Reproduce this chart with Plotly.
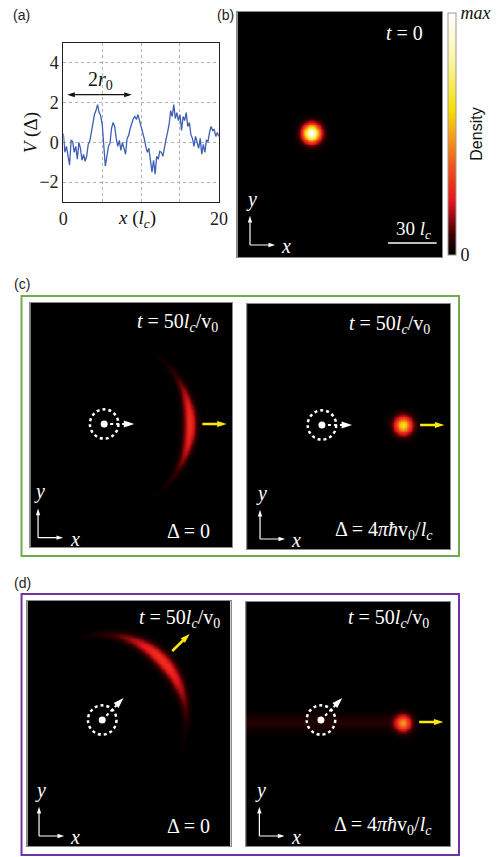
import numpy as np
import plotly.graph_objects as go

FIG_W, FIG_H = 503, 857
S = 5.0 / 3.0  # pixels per l_c in the density images

# ---------------- Panel (a): random potential ----------------
A_X = [round(0.2 * i, 1) for i in range(101)]
A_V = [0.45, -0.5, -0.2, -0.7, -1.15, 0.1, 0.05, -0.5, -0.2, -0.85,
       0.0, -0.3, -0.9, -0.6, -0.95, -0.7, -0.1, 0.05, 0.5, 1.1,
       1.4, 1.6, 1.9, 1.5, 1.35, 0.9, -0.2, -1.2, -0.7, -0.2,
       -0.05, 0.7, 1.0, 0.8, 0.2, -0.2, 0.1, -0.4, 0.0, -0.3,
       -0.6, 0.2, 0.35, 0.7, 0.95, 1.2, 1.3, 1.15, 1.4, 1.1,
       0.8, 0.55, 0.2, -0.2, -0.5, -0.3, -0.9, -1.5, -0.9, -1.6,
       -0.7, -0.85, -0.45, -0.5, -0.7, -0.2, 0.15, 0.5, 0.9, 1.6,
       1.3, 1.9, 1.2, 1.5, 1.1, 1.4, 0.6, 1.3, 1.1, 1.5,
       0.8, 1.0, 0.4, 0.2, -0.2, 0.3, -0.05, -0.3, 0.2, -0.6,
       -0.1, -0.5, 0.1, 0.05, 0.5, 0.8, 0.6, 0.65, 0.3, 0.5, 0.3]
A_XTICKS = [0, 5, 10, 15, 20]
A_XTICKTEXT = ["0", "", "", "", "20"]
A_YTICKS = [-2, 0, 2, 4]
A_YTICKTEXT = ["\u22122", "0", "2", "4"]
A_ARROW_X = [0.5, 8.8]
A_ARROW_Y = 2.4

# ---------------- Density images ----------------
IMG_LEFT = [239, 26, 249, 23, 248]
IMG_TOP = [12, 303, 304, 601, 602]
IMG_RIGHT = [450, 234, 458, 232, 458]
IMG_BOTTOM = [257, 547, 549, 846, 846]

# source point (white dot) in l_c
SRC_IMG = [1, 2, 3, 4]
SRC_X = [45.6, 46.2, 46.2, 46.2]
SRC_Y = [73.8, 74.4, 75.6, 75.6]
SRC_DIR = [0, 0, 45, 45]       # degrees
SRC_RING = 8.8
SRC_ARROW_LEN = 18.6

# Gaussian wave packets
BLOB_IMG = [0, 2, 4]
BLOB_X = [45.6, 96.2, 96.8]
BLOB_Y = [74.4, 74.4, 73.9]
BLOB_SIGMA = [3.7, 3.7, 3.4]
BLOB_PEAK = [1.0, 0.62, 0.46]

# crescent (ring) packets
ARC_IMG = [1, 3]
ARC_CX = [45.6, 46.2]
ARC_CY = [73.8, 75.6]
ARC_R = [52.8, 51.5]
ARC_ANGLE = [0.0, 44.0]
ARC_SPREAD = [20.0, 24.0]
ARC_WIDTH = [2.6, 3.0]
ARC_PEAK = [0.29, 0.29]

# faint trail
TRAIL_IMG = [4]
TRAIL_END = [96.8]
TRAIL_Y = [74.4]
TRAIL_WIDTH = [3.6]
TRAIL_PEAK = [0.045]

# yellow propagation arrows (l_c)
YEL_IMG = [1, 2, 3, 4]
YEL_X0 = [106.2, 106.8, 89.4, 106.8]
YEL_Y0 = [73.8, 74.4, 117.0, 74.4]
YEL_X1 = [121.2, 121.8, 100.2, 121.8]
YEL_Y1 = [73.8, 74.4, 127.2, 74.4]

# x-y axis indicator origins (l_c)
IND_X = [7.8, 4.8, 8.0, 7.2, 8.2]
IND_Y = [7.2, 5.6, 6.0, 6.0, 6.0]

# texts
TOP_TEXT = ["<i>t</i> = 0", "<i>t</i> = 50<i>l<sub>c</sub></i>/v<sub>0</sub>",
            "<i>t</i> = 50<i>l<sub>c</sub></i>/v<sub>0</sub>",
            "<i>t</i> = 50<i>l<sub>c</sub></i>/v<sub>0</sub>",
            "<i>t</i> = 50<i>l<sub>c</sub></i>/v<sub>0</sub>"]
TOP_X = [116.0, 117.0, 114.0, 120.0, 114.0]
TOP_Y = [134.4, 134.4, 135.0, 136.8, 136.8]
BOT_IMG = [1, 2, 3, 4]
BOT_TEXT = ["\u0394 = 0", "\u0394 = 4<i>\u03c0\u0127</i>v<sub>0</sub>/<i>l<sub>c</sub></i>",
            "\u0394 = 0", "\u0394 = 4<i>\u03c0\u0127</i>v<sub>0</sub>/<i>l<sub>c</sub></i>"]
BOT_X = [112.0, 115.8, 114.0, 115.8]
BOT_Y = [9.6, 11.4, 12.2, 12.2]

HOT = [[0.0, "#000000"], [0.08, "#3a0000"], [0.22, "#e3141c"], [0.36, "#f0501a"],
       [0.5, "#f7a21a"], [0.6, "#f5e100"], [0.8, "#faf5a0"], [1.0, "#ffffff"]]

SERIF = "Liberation Serif"
SANS = "Liberation Sans"

fig = go.Figure()


def px2paper_x(p):
    return p / FIG_W


def px2paper_y(p):
    return 1 - p / FIG_H


def add_arrow(x0, y0, x1, y1, xr, yr, color, width, head, dash="solid", symbol="arrow"):
    fig.add_trace(go.Scatter(
        x=[x0, x1], y=[y0, y1], mode="lines+markers", xaxis=xr, yaxis=yr,
        line=dict(color=color, width=width, dash=dash),
        marker=dict(symbol=["circle", symbol], size=[0, head], color=color, opacity=1,
                    angleref="previous", line=dict(width=0)),
        hoverinfo="skip", showlegend=False))


# ---- panel (a) ----
fig.add_trace(go.Scatter(x=A_X, y=A_V, mode="lines",
                         line=dict(color="#3d5fb4", width=1.3),
                         xaxis="x", yaxis="y", showlegend=False, hoverinfo="skip"))
mid = (A_ARROW_X[0] + A_ARROW_X[1]) / 2
add_arrow(mid, A_ARROW_Y, A_ARROW_X[1], A_ARROW_Y, "x", "y", "#111", 1.2, 8)
add_arrow(mid, A_ARROW_Y, A_ARROW_X[0], A_ARROW_Y, "x", "y", "#111", 1.2, 8)

layout = dict(
    width=FIG_W, height=FIG_H, margin=dict(l=0, r=0, t=0, b=0), autosize=False,
    paper_bgcolor="white", plot_bgcolor="white", showlegend=False,
    xaxis=dict(domain=[px2paper_x(60), px2paper_x(220)], range=[0, 20],
               tickvals=A_XTICKS, ticktext=A_XTICKTEXT, showgrid=True,
               gridcolor="#b0b0b0", griddash="dot", gridwidth=1,
               showline=True, mirror=True, linecolor="#222", linewidth=1.2,
               zeroline=False, ticks="", tickfont=dict(family=SERIF, size=18, color="#222"),
               anchor="y"),
    yaxis=dict(domain=[px2paper_y(202), px2paper_y(43)], range=[-3, 5],
               tickvals=A_YTICKS, ticktext=A_YTICKTEXT, showgrid=True,
               gridcolor="#b0b0b0", griddash="dot", gridwidth=1,
               showline=True, mirror=True, linecolor="#222", linewidth=1.2,
               zeroline=False, ticks="", tickfont=dict(family=SERIF, size=18, color="#222"),
               anchor="x"),
)

annotations = []
shapes = []

annotations.append(dict(xref="x", yref="y", x=4.8, y=3.1, text="2<i>r</i><sub>0</sub>",
                        showarrow=False, font=dict(family=SERIF, size=20, color="#111")))
annotations.append(dict(xref="paper", yref="paper", x=px2paper_x(136), y=px2paper_y(219),
                        xanchor="center", yanchor="middle",
                        text="<i>x</i> (<i>l<sub>c</sub></i>)", showarrow=False,
                        font=dict(family=SERIF, size=19, color="#111")))
annotations.append(dict(xref="paper", yref="paper", x=px2paper_x(27), y=px2paper_y(133),
                        xanchor="center", yanchor="middle",
                        text="<i>V</i> (\u0394)", textangle=-90, showarrow=False,
                        font=dict(family=SERIF, size=19, color="#111")))

# ---- density images ----
for i in range(5):
    n = i + 2
    xr, yr = "x%d" % n, "y%d" % n
    W = (IMG_RIGHT[i] - IMG_LEFT[i]) / S
    H = (IMG_BOTTOM[i] - IMG_TOP[i]) / S
    gx = np.arange(0, W + 0.01, 1.0)
    gy = np.arange(0, H + 0.01, 1.0)
    X, Y = np.meshgrid(gx, gy)
    Z = np.zeros_like(X)
    for k, im in enumerate(BLOB_IMG):
        if im == i:
            Z += BLOB_PEAK[k] * np.exp(-((X - BLOB_X[k]) ** 2 + (Y - BLOB_Y[k]) ** 2)
                                       / (2 * BLOB_SIGMA[k] ** 2))
    for k, im in enumerate(ARC_IMG):
        if im == i:
            r = np.hypot(X - ARC_CX[k], Y - ARC_CY[k])
            th = np.degrees(np.arctan2(Y - ARC_CY[k], X - ARC_CX[k])) - ARC_ANGLE[k]
            th = (th + 180) % 360 - 180
            ang = np.exp(-0.5 * (th / ARC_SPREAD[k]) ** 2)
            wid = ARC_WIDTH[k] * (0.45 + 0.55 * ang)
            Z += ARC_PEAK[k] * ang * np.exp(-0.5 * ((r - ARC_R[k]) / wid) ** 2)
    for k, im in enumerate(TRAIL_IMG):
        if im == i:
            Z += TRAIL_PEAK[k] * np.exp(-0.5 * ((Y - TRAIL_Y[k]) / TRAIL_WIDTH[k]) ** 2) \
                / (1 + np.exp((X - TRAIL_END[k]) / 2.0))
    Z = np.round(np.clip(Z, 0, 1), 3)
    tr = dict(x=gx, y=gy, z=Z, colorscale=HOT, zmin=0, zmax=1, zsmooth="best",
              xaxis=xr, yaxis=yr, hoverinfo="skip", showscale=(i == 0))
    if i == 0:
        tr["colorbar"] = dict(
            x=px2paper_x(456), xanchor="left", xpad=0, ypad=0,
            y=px2paper_y((13 + 255) / 2), yanchor="middle", len=(255 - 13) / FIG_H,
            lenmode="fraction", thickness=8, thicknessmode="pixels",
            outlinewidth=1, outlinecolor="#999", tickvals=[0, 1],
            ticktext=["0", "<i>max</i>"], ticks="",
            tickfont=dict(family=SERIF, size=18, color="#111"),
            title=dict(text="Density", side="right", font=dict(family=SANS, size=16, color="#111")))
    fig.add_trace(go.Heatmap(**tr))

    layout["xaxis%d" % n] = dict(domain=[px2paper_x(IMG_LEFT[i]), px2paper_x(IMG_RIGHT[i])],
                                 range=[0, W], showgrid=False, zeroline=False,
                                 showticklabels=False, ticks="", showline=True, mirror=True,
                                 linecolor="#8a8a8a", linewidth=1, anchor=yr, fixedrange=True)
    layout["yaxis%d" % n] = dict(domain=[px2paper_y(IMG_BOTTOM[i]), px2paper_y(IMG_TOP[i])],
                                 range=[0, H], showgrid=False, zeroline=False,
                                 showticklabels=False, ticks="", showline=True, mirror=True,
                                 linecolor="#8a8a8a", linewidth=1, anchor=xr, fixedrange=True)

    # x-y indicator
    ox, oy = IND_X[i], IND_Y[i]
    add_arrow(ox, oy, ox, oy + 17.5, xr, yr, "white", 1.2, 7)
    add_arrow(ox, oy, ox + 15.5, oy, xr, yr, "white", 1.2, 7)
    annotations.append(dict(xref=xr, yref=yr, x=ox + 0.8, y=oy + 27.5, text="<i>y</i>",
                            showarrow=False, font=dict(family=SERIF, size=20, color="white")))
    annotations.append(dict(xref=xr, yref=yr, x=ox + 22.5, y=oy - 0.5, text="<i>x</i>",
                            showarrow=False, font=dict(family=SERIF, size=20, color="white")))
    # top text
    annotations.append(dict(xref=xr, yref=yr, x=TOP_X[i], y=TOP_Y[i], text=TOP_TEXT[i],
                            xanchor="right", showarrow=False,
                            font=dict(family=SERIF, size=20, color="white")))

# scale bar in (b)
shapes.append(dict(type="line", xref="x2", yref="y2", x0=93, x1=123, y0=8.4, y1=8.4,
                   line=dict(color="white", width=1.5)))
annotations.append(dict(xref="x2", yref="y2", x=108.5, y=16.5, text="30 <i>l<sub>c</sub></i>",
                        showarrow=False, font=dict(family=SERIF, size=19, color="white")))

# bottom texts
for k, im in enumerate(BOT_IMG):
    n = im + 2
    annotations.append(dict(xref="x%d" % n, yref="y%d" % n, x=BOT_X[k], y=BOT_Y[k],
                            text=BOT_TEXT[k], xanchor="right", showarrow=False,
                            font=dict(family=SERIF, size=20, color="white")))

# sources: dotted ring, dot, dotted direction arrow
for k, im in enumerate(SRC_IMG):
    n = im + 2
    xr, yr = "x%d" % n, "y%d" % n
    cx, cy = SRC_X[k], SRC_Y[k]
    shapes.append(dict(type="circle", xref=xr, yref=yr, x0=cx - SRC_RING, x1=cx + SRC_RING,
                       y0=cy - SRC_RING, y1=cy + SRC_RING,
                       line=dict(color="white", width=2.5, dash="dot")))
    a = np.radians(SRC_DIR[k])
    tipx, tipy = cx + SRC_ARROW_LEN * np.cos(a), cy + SRC_ARROW_LEN * np.sin(a)
    add_arrow(cx, cy, tipx, tipy, xr, yr, "white", 2, 11, dash="dot")
    fig.add_trace(go.Scatter(x=[cx], y=[cy], mode="markers", xaxis=xr, yaxis=yr,
                             marker=dict(color="white", size=7), hoverinfo="skip",
                             showlegend=False))

# yellow arrows
for k, im in enumerate(YEL_IMG):
    n = im + 2
    add_arrow(YEL_X0[k], YEL_Y0[k], YEL_X1[k], YEL_Y1[k], "x%d" % n, "y%d" % n,
              "#ffe900", 2.5, 10)

# frames
shapes.append(dict(type="rect", xref="paper", yref="paper",
                   x0=px2paper_x(17), x1=px2paper_x(467), y0=px2paper_y(556), y1=px2paper_y(296),
                   line=dict(color="#72ac48", width=2)))
shapes.append(dict(type="rect", xref="paper", yref="paper",
                   x0=px2paper_x(17), x1=px2paper_x(467), y0=px2paper_y(855), y1=px2paper_y(594),
                   line=dict(color="#7431a0", width=2)))

# panel labels
for lab, lx, ly in [("(a)", 17, 15), ("(b)", 227, 15), ("(c)", 17, 284), ("(d)", 18, 583)]:
    annotations.append(dict(xref="paper", yref="paper", x=px2paper_x(lx), y=px2paper_y(ly),
                            xanchor="center", yanchor="middle",
                            text=lab, showarrow=False,
                            font=dict(family=SANS, size=14, color="#222")))

layout["annotations"] = annotations
layout["shapes"] = shapes
fig.update_layout(**layout)
fig.write_html("out.html", config={"displayModeBar": False},
               post_script="document.body.style.margin='0';document.body.style.padding='0';")
